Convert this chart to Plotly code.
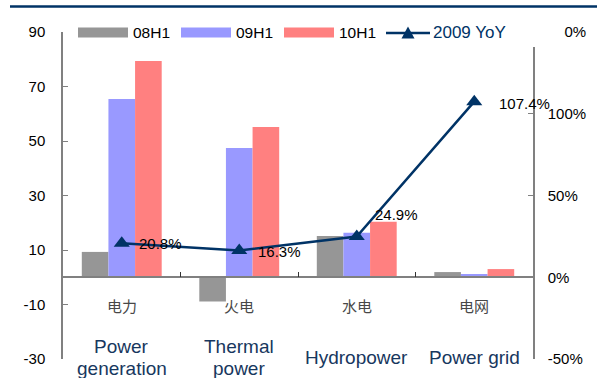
import plotly.graph_objects as go

# ---- data ----
categories_cn = ["电力", "火电", "水电", "电网"]
categories_en = [["Power", "generation"], ["Thermal", "power"], ["Hydropower"], ["Power grid"]]
h1_2008 = [9.3, -8.9, 15.1, 1.9]
h1_2009 = [65.4, 47.4, 16.3, 1.2]
h1_2010 = [79.4, 55.1, 20.4, 3.0]
yoy_2009 = [20.8, 16.3, 24.9, 107.4]
series_names = ["08H1", "09H1", "10H1"]
line_name = "2009 YoY"
left_ticks = [-30, -10, 10, 30, 50, 70, 90]
right_ticks = [-50, 0, 50, 100, 150]

# ---- style ----
W, H = 597, 378
L, R, T, B = 63, 533, 32, 359
FONT = "Liberation Sans, Arial, sans-serif"
CJK = "Noto Sans CJK SC, sans-serif"
NAVY = "#003366"
AXIS = "#808080"
colors = ["#969696", "#9999FF", "#FF8080"]
ymin, ymax = left_ticks[0], left_ticks[-1]
y2min, y2max = right_ticks[0], right_ticks[-1]

def px(x):
    return (x - L) / (R - L)

def py(y):
    return (B - y) / (B - T)

xs = list(range(len(categories_cn)))

fig = go.Figure()
for name, vals, c in zip(series_names, [h1_2008, h1_2009, h1_2010], colors):
    fig.add_trace(go.Bar(x=xs, y=vals, name=name, marker=dict(color=c, line=dict(width=0)),
                         showlegend=False))

fig.add_trace(go.Scatter(x=xs, y=yoy_2009, name=line_name, yaxis="y2", mode="lines+markers",
                         line=dict(color=NAVY, width=2.5),
                         marker=dict(symbol="triangle-up", size=14, color=NAVY),
                         showlegend=False))

annotations = []
# data labels
label_shift = [(15, 0), (17, -1), (16, 22), (23, -2)]
for x, v, (dx, dy) in zip(xs, yoy_2009, label_shift):
    annotations.append(dict(x=x, y=v, xref="x", yref="y2", text=f"{v:.1f}%", showarrow=False,
                            xanchor="left", yanchor="middle", xshift=dx, yshift=dy,
                            font=dict(family=FONT, size=15, color="black")))
# category labels
for x, cn, en in zip(xs, categories_cn, categories_en):
    annotations.append(dict(x=x, y=py(305), xref="x", yref="paper", text=cn, showarrow=False,
                            xanchor="center", yanchor="middle",
                            font=dict(family=CJK, size=15, color="#484848")))
    n = len(en)
    for i, line in enumerate(en):
        yc = 357 + (i - (n - 1) / 2) * 22
        annotations.append(dict(x=x, y=py(yc), xref="x", yref="paper", text=line, showarrow=False,
                                xanchor="center", yanchor="middle",
                                font=dict(family=FONT, size=19, color="#17375E")))

shapes = []
# top rule
shapes.append(dict(type="line", xref="paper", yref="paper", x0=px(10), x1=px(597), y0=py(6.5), y1=py(6.5),
                   line=dict(color=NAVY, width=2.5)))
# legend background
shapes.append(dict(type="rect", xref="paper", yref="paper", x0=px(70), x1=px(564), y0=py(47), y1=py(18),
                   fillcolor="white", line=dict(width=0), layer="above"))
# legend entries
leg_x = [78, 181, 284]
for lx, name, c in zip(leg_x, series_names, colors):
    shapes.append(dict(type="rect", xref="paper", yref="paper", x0=px(lx), x1=px(lx + 50),
                       y0=py(37.5), y1=py(27.5), fillcolor=c, line=dict(width=0), layer="above"))
    annotations.append(dict(x=px(lx + 53), y=py(32.5), xref="paper", yref="paper", text=name,
                            showarrow=False, xanchor="left", yanchor="middle",
                            font=dict(family=FONT, size=15.5, color="black")))
shapes.append(dict(type="line", xref="paper", yref="paper", x0=px(386), x1=px(430), y0=py(33), y1=py(33),
                   line=dict(color=NAVY, width=2.5), layer="above"))
tx, ty = 408, 33
path = f"M {px(tx-6.5)},{py(ty+5.5)} L {px(tx+6.5)},{py(ty+5.5)} L {px(tx)},{py(ty-6.5)} Z"
shapes.append(dict(type="path", xref="paper", yref="paper", path=path, fillcolor=NAVY,
                   line=dict(color=NAVY, width=0), layer="above"))
annotations.append(dict(x=px(431), y=py(32.5), xref="paper", yref="paper", text=line_name,
                        showarrow=False, xanchor="left", yanchor="middle",
                        font=dict(family=FONT, size=17, color=NAVY)))

fig.update_layout(
    width=W, height=H,
    margin=dict(l=L, r=W - R, t=T, b=H - B, pad=0, autoexpand=False),
    plot_bgcolor="white", paper_bgcolor="white",
    barmode="group", bargap=0.32, bargroupgap=0,
    showlegend=False,
    font=dict(family=FONT, size=15, color="black"),
    xaxis=dict(range=[-0.5, len(xs) - 0.5], anchor="free", position=(0 - ymin) / (ymax - ymin),
               showline=True, linecolor=AXIS, linewidth=1.5, automargin=False,
               tickmode="array", tickvals=[i - 0.5 for i in range(len(xs) + 1)],
               ticks="inside", ticklen=5, tickcolor="#333333", tickwidth=1,
               showticklabels=False, showgrid=False, zeroline=False),
    yaxis=dict(range=[ymin, ymax], tickmode="array", tickvals=left_ticks,
               ticktext=[str(v) for v in left_ticks], automargin=False,
               showline=True, linecolor=AXIS, linewidth=1.5, ticks="inside", ticklen=5,
               tickcolor=AXIS, showgrid=False, zeroline=False, ticklabelstandoff=13,
               tickfont=dict(family=FONT, size=15, color="black")),
    yaxis2=dict(range=[y2min, y2max], overlaying="y", side="right", tickmode="array",
                tickvals=right_ticks, ticktext=[f"{v}%" for v in right_ticks], automargin=False,
                showline=True, linecolor=AXIS, linewidth=1.5, ticks="inside", ticklen=5,
                tickcolor=AXIS, showgrid=False, zeroline=False, ticklabelstandoff=10,
                tickfont=dict(family=FONT, size=15, color="black")),
    annotations=annotations,
    shapes=shapes,
)

fig.write_html("out.html", config={"displayModeBar": False},
               post_script="document.body.style.margin='0';document.body.style.overflow='hidden';")
